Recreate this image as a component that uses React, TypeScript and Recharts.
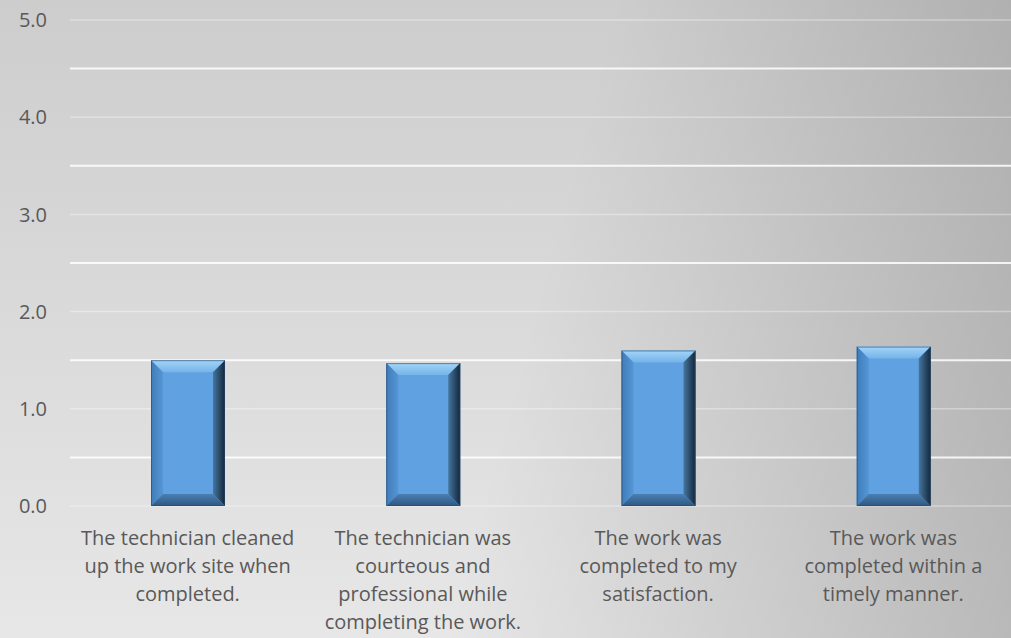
import React from "react"
import { BarChart, Bar, XAxis, YAxis, CartesianGrid } from "recharts"

const categories = [
  "The technician cleaned\nup the work site when\ncompleted.",
  "The technician was\ncourteous and\nprofessional while\ncompleting the work.",
  "The work was\ncompleted to my\nsatisfaction.",
  "The work was\ncompleted within a\ntimely manner.",
]
const scores = [1.5, 1.47, 1.6, 1.64]
const yTicks = [0, 1, 2, 3, 4, 5]
const minorLines = [0.5, 1.5, 2.5, 3.5, 4.5]

const data = categories.map((name, i) => ({ name, value: scores[i] }))

const TEXT = "#595959"
const FONT = "'Open Sans', sans-serif"

function BevelBar(props: any) {
  const { x, y, width: w, height: h } = props
  if (!h || h <= 0) return null
  const b = 12
  return (
    <g>
      <rect x={x} y={y} width={w} height={h} fill="#60a2e1" />
      <polygon points={`${x},${y} ${x + w},${y} ${x + w - b},${y + b} ${x + b},${y + b}`} fill="url(#bevelTop)" />
      <polygon points={`${x},${y} ${x + b},${y + b} ${x + b},${y + h - b} ${x},${y + h}`} fill="url(#bevelLeft)" />
      <polygon points={`${x + w},${y} ${x + w},${y + h} ${x + w - b},${y + h - b} ${x + w - b},${y + b}`} fill="url(#bevelRight)" />
      <polygon points={`${x},${y + h} ${x + w},${y + h} ${x + w - b},${y + h - b} ${x + b},${y + h - b}`} fill="url(#bevelBottom)" />
      <rect x={x + 0.5} y={y + 0.5} width={w - 1} height={h - 1} fill="none" stroke="#2a4766" strokeOpacity={0.6} />
    </g>
  )
}

function CategoryTick(props: any) {
  const { x, y, payload } = props
  const lines = String(payload.value).split("\n")
  return (
    <text x={x} y={y} textAnchor="middle" fill={TEXT} fontSize={20} fontFamily={FONT}>
      {lines.map((line, i) => (
        <tspan key={i} x={x} dy={i === 0 ? 31 : 28}>
          {line}
        </tspan>
      ))}
    </text>
  )
}

export default function App() {
  return (
    <div
      style={{
        position: "absolute",
        left: 0,
        top: 0,
        width: 1011,
        height: 638,
        background:
          "linear-gradient(105deg, rgba(0,0,0,0) 52%, rgba(0,0,0,0.2) 100%), linear-gradient(to bottom, #cdcdcd 0%, #e7e7e7 100%)",
      }}
    >
      <BarChart
        width={1011}
        height={638}
        data={data}
        margin={{ top: 20, right: 0, bottom: 0, left: 0 }}
        barSize={74}
      >
        <defs>
          <linearGradient id="bevelTop" x1="0" y1="0" x2="0" y2="1">
            <stop offset="0%" stopColor="#a3d5f8" />
            <stop offset="100%" stopColor="#74b3e9" />
          </linearGradient>
          <linearGradient id="bevelLeft" x1="0" y1="0" x2="1" y2="0">
            <stop offset="0%" stopColor="#3f7cb8" />
            <stop offset="100%" stopColor="#5596d6" />
          </linearGradient>
          <linearGradient id="bevelRight" x1="0" y1="0" x2="1" y2="0">
            <stop offset="0%" stopColor="#46769f" />
            <stop offset="100%" stopColor="#13263a" />
          </linearGradient>
          <linearGradient id="bevelBottom" x1="0" y1="0" x2="0" y2="1">
            <stop offset="0%" stopColor="#4a7fb3" />
            <stop offset="100%" stopColor="#2f5782" />
          </linearGradient>
        </defs>
        <CartesianGrid
          vertical={false}
          horizontalValues={yTicks}
          stroke="#ffffff"
          strokeOpacity={0.35}
          strokeWidth={1.5}
        />
        <CartesianGrid
          vertical={false}
          horizontalValues={minorLines}
          stroke="#ffffff"
          strokeOpacity={0.85}
          strokeWidth={2}
        />
        <XAxis
          dataKey="name"
          axisLine={false}
          tickLine={false}
          height={132}
          interval={0}
          tick={<CategoryTick />}
        />
        <YAxis
          domain={[0, 5]}
          ticks={yTicks}
          width={70}
          axisLine={false}
          tickLine={false}
          tickSize={0}
          tickMargin={23}
          tickFormatter={(v: number) => v.toFixed(1)}
          tick={{ fill: TEXT, fontSize: 20, fontFamily: FONT }}
        />
        <Bar dataKey="value" shape={<BevelBar />} isAnimationActive={false} />
      </BarChart>
    </div>
  )
}
